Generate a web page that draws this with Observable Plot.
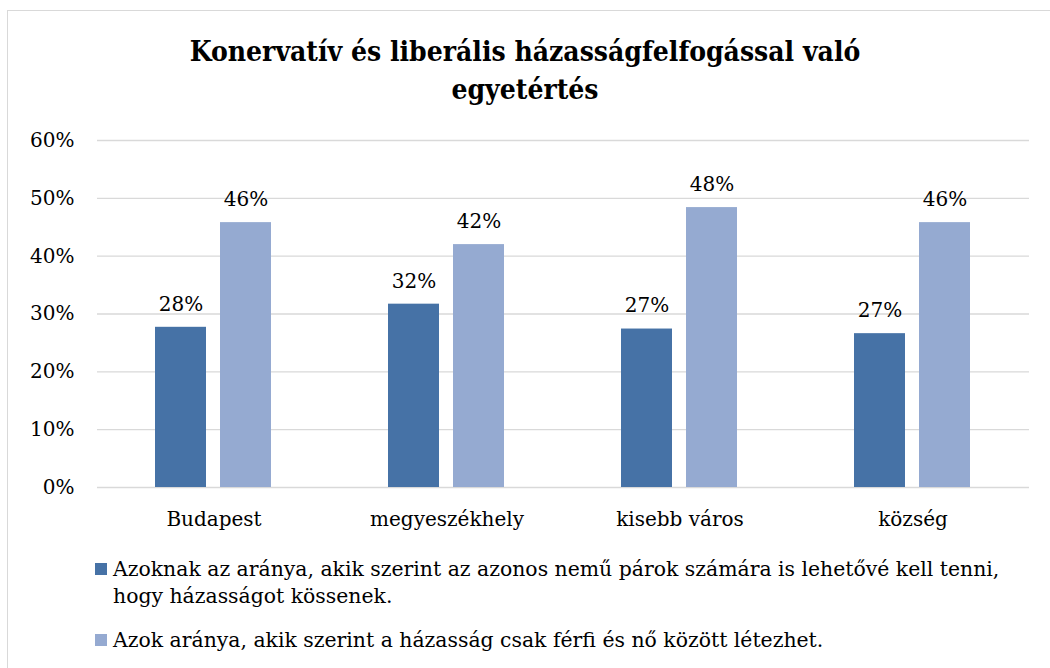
<!DOCTYPE html>
<html><head><meta charset="utf-8">
<script src="https://cdn.jsdelivr.net/npm/d3@7"></script>
<script src="https://cdn.jsdelivr.net/npm/@observablehq/plot@0.6"></script>
<style>
body{margin:0;width:1050px;height:668px;overflow:hidden;background:#fff;position:relative}
#frame{position:absolute;left:7px;top:10px;width:1100px;height:700px;border:1.5px solid #d9d9d9;box-sizing:border-box}
#title{position:absolute;top:33px;left:0;width:1050px;text-align:center;font-family:"DejaVu Serif",serif;font-stretch:condensed;font-weight:bold;font-size:28px;line-height:38px;color:#000}
#chart{position:absolute;left:0;top:120px}
#legend{position:absolute;left:95px;top:556px;font-family:"DejaVu Serif",serif;font-size:20.4px;color:#000}
.item{position:relative;padding-left:18px;line-height:27px}
.item .sw{position:absolute;left:0;top:7px;width:12px;height:12px}
</style></head>
<body>
<div id="frame"></div>
<div id="title">Konervatív és liberális házasságfelfogással való<br>egyetértés</div>
<div id="chart"></div>
<div id="legend"></div>
<script>
const categories = ["Budapest", "megyeszékhely", "kisebb város", "község"];
const seriesKeys = ["liberal", "conservative"];
const seriesNames = [
  "Azoknak az aránya, akik szerint az azonos nemű párok számára is lehetővé kell tenni,<br>hogy házasságot kössenek.",
  "Azok aránya, akik szerint a házasság csak férfi és nő között létezhet."
];
const liberalValues = [0.277, 0.317, 0.274, 0.266];
const conservativeValues = [0.458, 0.420, 0.484, 0.458];
const yTicks = [0, 0.1, 0.2, 0.3, 0.4, 0.5, 0.6];
const colors = ["#4672A6", "#95AAD1"];

const data = [];
categories.forEach((c, i) => {
  data.push({cat: c, key: seriesKeys[0], value: liberalValues[i]});
  data.push({cat: c, key: seriesKeys[1], value: conservativeValues[i]});
});
const pct = d3.format(".0%");

const chart = Plot.plot({
  width: 1050, height: 420,
  marginTop: 20, marginBottom: 53, marginLeft: 95, marginRight: 20,
  style: {fontFamily: "DejaVu Serif", fontSize: "20px", color: "#000", background: "transparent", overflow: "visible"},
  fx: {domain: categories, paddingInner: 0, paddingOuter: 0, label: null},
  x: {domain: seriesKeys, paddingInner: 0.212, paddingOuter: 0.877, axis: null},
  y: {domain: [0, 0.6], label: null},
  color: {domain: seriesKeys, range: colors},
  marks: [
    Plot.ruleY(yTicks, {stroke: "#d9d9d9", strokeWidth: 1.4}),
    Plot.barY(data, {fx: "cat", x: "key", y: "value", fill: "key"}),
    Plot.text(data, {fx: "cat", x: "key", y: "value", text: d => pct(d.value), dy: -23, fontSize: 20}),
    Plot.axisY(yTicks, {tickFormat: pct, tickSize: 0, tickPadding: 23, fontSize: 20, label: null}),
    Plot.axisFx({anchor: "bottom", tickSize: 0, tickPadding: 24, fontSize: 20, label: null})
  ]
});
document.getElementById("chart").appendChild(chart);

const legend = document.getElementById("legend");
seriesNames.forEach((name, i) => {
  const div = document.createElement("div");
  div.className = "item";
  div.style.marginBottom = i === 0 ? "17px" : "0";
  div.innerHTML = `<span class="sw" style="background:${colors[i]}"></span>${name}`;
  legend.appendChild(div);
});
</script>
</body></html>
